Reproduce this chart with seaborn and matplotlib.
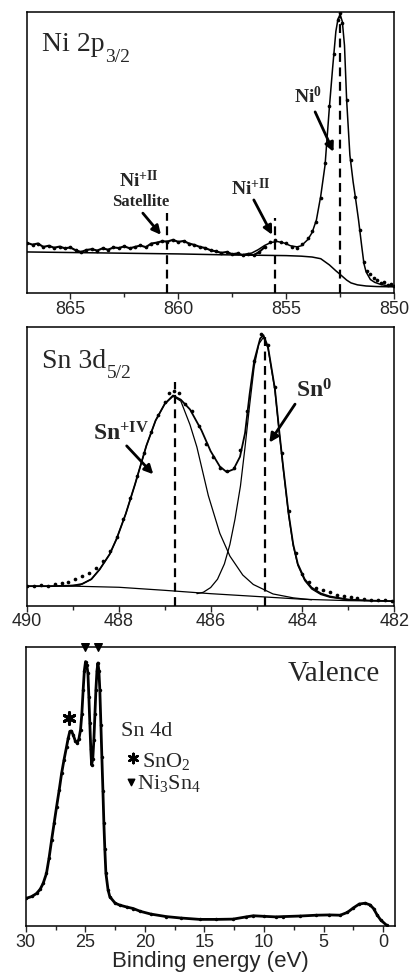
# XPS spectra of Ni3Sn4 sample: Ni 2p3/2, Sn 3d5/2 and valence band
import pandas as pd
import matplotlib
matplotlib.use("Agg")
import matplotlib.pyplot as plt
import seaborn as sns
from matplotlib.ticker import MultipleLocator

# ---------------- Ni 2p3/2 ----------------
ni_data_x = [867.0, 866.75, 866.5, 866.25, 866.0, 865.75, 865.5, 865.25, 865.0, 864.75,
             864.5, 864.25, 864.0, 863.75, 863.5, 863.25, 863.0, 862.75, 862.5, 862.25,
             862.0, 861.75, 861.5, 861.25, 861.0, 860.75, 860.5, 860.25, 860.0, 859.75,
             859.5, 859.25, 859.0, 858.75, 858.5, 858.25, 858.0, 857.75, 857.5, 857.25,
             857.0, 856.75, 856.5, 856.25, 856.0, 855.75, 855.5, 855.25, 855.0, 854.75,
             854.5, 854.25, 854.0, 853.8, 853.6, 853.4, 853.2, 853.0, 852.8, 852.6,
             852.5, 852.4, 852.2, 852.0, 851.8, 851.6, 851.4, 851.25, 851.1, 850.95,
             850.8, 850.6, 850.45, 850.3, 850.15, 850.0]
ni_data_y = [17.8, 17.2, 17.6, 16.4, 16.8, 16.1, 16.5, 15.9, 16.2, 15.2,
             14.6, 15.3, 15.6, 15.1, 15.9, 15.4, 16.2, 16.0, 16.6, 15.9,
             16.4, 16.9, 16.3, 17.6, 17.9, 18.4, 18.3, 18.9, 18.2, 18.5,
             17.6, 17.1, 16.4, 16.0, 15.2, 14.8, 14.3, 14.6, 13.8, 14.1,
             13.4, 13.7, 13.5, 14.6, 16.3, 18.3, 18.9, 18.0, 17.9, 16.2,
             15.9, 17.4, 19.6, 21.9, 25.4, 33.8, 46.2, 66.5, 85.0, 97.0,
             99.5, 96.0, 68.6, 47.3, 34.0, 22.5, 10.9, 8.0, 6.6, 5.3,
             4.6, 3.6, 3.9, 2.8, 3.1, 2.6]

ni_fit_x = [857.5, 857.0, 856.6, 856.3, 856.0, 855.7, 855.4, 855.1, 854.8, 854.5,
            854.3, 854.0, 853.8, 853.6, 853.4, 853.2, 853.0, 852.85, 852.7, 852.6,
            852.5, 852.4, 852.3, 852.2, 852.05, 851.9, 851.8, 851.65, 851.5, 851.4,
            851.3, 851.1, 850.9, 850.6, 850.3, 850.0]
ni_fit_y = [13.6, 13.7, 14.2, 15.4, 16.9, 18.0, 18.3, 17.8, 16.8, 16.4,
            16.8, 19.0, 21.5, 26.0, 34.5, 45.5, 66.0, 80.0, 93.0, 97.5,
            99.0, 96.5, 88.0, 68.5, 49.0, 39.5, 34.3, 26.0, 16.5, 10.5,
            7.5, 4.8, 3.8, 3.0, 2.6, 2.4]

ni_bg_x = [867.0, 865.0, 862.0, 860.0, 858.0, 856.0, 855.0, 854.3, 853.8, 853.4,
           853.0, 852.7, 852.5, 852.2, 852.0, 851.7, 851.3, 850.8, 850.0]
ni_bg_y = [14.6, 14.4, 14.1, 13.9, 13.6, 13.4, 13.3, 13.1, 12.8, 12.2,
           10.0, 7.9, 6.6, 4.6, 3.6, 2.9, 2.5, 2.3, 2.2]

ni_peak_pos = [860.5, 855.5, 852.5]
ni_peak_top = [28.5, 26.5, 99.0]

# ---------------- Sn 3d5/2 ----------------
sn_data_x = [490.0, 489.85, 489.7, 489.55, 489.4, 489.25, 489.1, 488.95, 488.8, 488.65,
             488.5, 488.35, 488.2, 488.05, 487.9, 487.75, 487.6, 487.45, 487.3, 487.15,
             487.0, 486.9, 486.8, 486.7, 486.55, 486.4, 486.25, 486.1, 485.95, 485.8,
             485.65, 485.5, 485.35, 485.2, 485.05, 484.9, 484.75, 484.6, 484.45, 484.3,
             484.15, 484.0, 483.85, 483.7, 483.55, 483.4, 483.25, 483.1, 482.95, 482.8,
             482.65, 482.5, 482.35, 482.2, 482.05]
sn_data_y = [7.1, 6.9, 7.3, 7.2, 7.6, 8.0, 8.6, 9.4, 10.6, 11.8,
             13.6, 16.0, 19.5, 24.5, 31.0, 38.5, 46.5, 55.0, 62.5, 68.5,
             73.0, 76.5, 77.0, 76.5, 72.5, 70.0, 64.5, 58.0, 53.5, 49.5,
             48.5, 49.5, 56.0, 70.0, 88.0, 97.5, 93.5, 78.5, 55.0, 34.0,
             19.0, 11.5, 8.5, 6.5, 5.5, 4.8, 4.0, 3.4, 3.0, 2.6,
             2.3, 2.1, 2.0, 1.9, 1.7]

sn_fit_x = [490.0, 489.5, 489.0, 488.8, 488.6, 488.42, 488.2, 488.05, 487.85, 487.65,
            487.4, 487.2, 487.0, 486.82, 486.65, 486.45, 486.2, 486.0, 485.8, 485.65,
            485.5, 485.36, 485.25, 485.15, 485.05, 484.92, 484.85, 484.75, 484.6, 484.5,
            484.42, 484.3, 484.2, 484.1, 483.95, 483.8, 483.6, 483.4, 483.0, 482.5, 482.0]
sn_fit_y = [7.0, 7.0, 7.2, 7.8, 9.5, 13.0, 18.5, 24.0, 33.0, 43.5,
            57.5, 66.5, 72.5, 75.5, 74.0, 70.5, 63.0, 55.5, 50.0, 48.0,
            49.0, 53.5, 62.0, 76.0, 88.0, 96.0, 97.2, 93.0, 78.0, 62.0,
            50.0, 33.0, 22.0, 15.0, 9.5, 6.5, 4.4, 3.3, 2.2, 1.8, 1.6]

sn4_x = [489.2, 488.85, 488.6, 488.42, 488.2, 488.05, 487.85, 487.65, 487.4, 487.2,
         487.0, 486.82, 486.65, 486.45, 486.3, 486.05, 485.8, 485.58, 485.3, 485.07,
         484.64, 484.2, 483.8]
sn4_y = [7.1, 7.4, 9.5, 13.0, 18.5, 24.0, 33.0, 43.5, 57.5, 66.5,
         72.5, 75.2, 73.5, 65.0, 57.0, 39.5, 26.0, 17.8, 11.0, 7.6,
         4.2, 2.8, 2.1]

sn0_x = [486.3, 486.16, 486.0, 485.85, 485.7, 485.58, 485.47, 485.35, 485.25, 485.15,
         485.05, 484.95, 484.85, 484.75, 484.6, 484.5, 484.42, 484.3, 484.2, 484.1,
         483.95, 483.8, 483.6, 483.4, 483.0]
sn0_y = [4.3, 4.8, 6.5, 9.5, 15.0, 22.0, 31.0, 43.0, 57.0, 72.0,
         86.0, 94.0, 96.4, 92.5, 77.5, 61.5, 49.5, 32.5, 21.5, 14.5,
         9.0, 6.0, 4.0, 3.0, 2.1]

sn_bg_x = [490.0, 489.0, 488.0, 487.0, 486.5, 486.0, 485.5, 485.0, 484.5, 484.0, 483.0, 482.0]
sn_bg_y = [7.0, 7.0, 6.6, 5.5, 4.9, 4.3, 3.8, 3.3, 2.8, 2.3, 1.8, 1.6]

sn_peak_pos = [486.78, 484.82]
sn_peak_top = [80.2, 98.2]

# ---------------- Valence band ----------------
val_x = [30.0, 29.5, 29.1, 28.8, 28.55, 28.27, 28.05, 27.84, 27.63, 27.42,
         27.2, 27.0, 26.8, 26.58, 26.45, 26.31, 26.17, 26.03, 25.85, 25.69,
         25.55, 25.41, 25.3, 25.19, 25.09, 24.99, 24.89, 24.79, 24.71, 24.63,
         24.55, 24.48, 24.38, 24.29, 24.2, 24.12, 24.03, 23.95, 23.87, 23.79,
         23.7, 23.62, 23.53, 23.45, 23.37, 23.28, 23.1, 22.95, 22.5, 22.11,
         21.5, 20.99, 20.4, 19.5, 18.2, 17.0, 15.4, 14.0, 12.6, 11.5,
         10.9, 10.0, 9.0, 8.4, 7.0, 5.6, 4.5, 3.6, 3.0, 2.5,
         2.0, 1.5, 1.1, 0.8, 0.5, 0.2, -0.3]
val_y = [9.9, 10.6, 11.7, 13.2, 15.3, 18.9, 24.5, 30.8, 36.8, 42.8,
         48.8, 54.7, 59.5, 64.3, 67.2, 69.7, 69.8, 68.5, 66.3, 65.5,
         67.0, 70.3, 76.0, 84.6, 91.5, 94.7, 93.5, 90.6, 82.0, 72.6,
         63.5, 57.7, 60.0, 66.7, 76.0, 84.6, 91.5, 94.2, 91.5, 84.6,
         72.0, 60.7, 48.5, 36.8, 27.5, 18.9, 13.0, 10.5, 8.2, 7.5,
         6.8, 6.3, 5.3, 4.3, 3.4, 2.9, 2.4, 2.4, 2.5, 3.3,
         3.7, 3.5, 3.3, 3.4, 3.6, 3.9, 4.0, 3.9, 4.9, 6.5,
         7.9, 8.2, 7.6, 6.3, 4.0, 2.2, 0.3]

val_sno2_x = [26.36]
val_sno2_y = [74.4]
val_ni3sn4_x = [25.0, 23.95]

# ---------------- style ----------------
sns.set_style("ticks")
plt.rcParams["font.family"] = ["Liberation Sans", "DejaVu Sans"]
plt.rcParams["mathtext.fontset"] = "custom"
plt.rcParams["mathtext.rm"] = "Liberation Serif"
plt.rcParams["mathtext.it"] = "Liberation Serif:italic"
plt.rcParams["mathtext.bf"] = "Liberation Serif:bold"
SERIF = ["Liberation Serif", "DejaVu Serif"]

fig = plt.figure(figsize=(4.11, 9.8), dpi=100)
ax1 = fig.add_axes([0.066, 0.701, 0.893, 0.287])
ax2 = fig.add_axes([0.066, 0.382, 0.893, 0.284])
ax3 = fig.add_axes([0.063, 0.055, 0.898, 0.285])

arrow_kw = dict(arrowstyle="-|>", lw=2.0, color="black", mutation_scale=13,
                shrinkA=0, shrinkB=0)


def style_axis(ax, xlim, major, minor):
    """Common look: reversed energy axis, no y ticks, outward ticks."""
    ax.set_xlim(*xlim)
    ax.set_ylim(0, 100)
    ax.set_yticks([])
    ax.set_ylabel("")
    ax.set_xlabel("")
    ax.xaxis.set_major_locator(MultipleLocator(major))
    ax.xaxis.set_minor_locator(MultipleLocator(minor))
    ax.tick_params(axis="x", which="major", direction="out", length=4, width=1.0,
                   labelsize=13, pad=1.5)
    ax.tick_params(axis="x", which="minor", direction="out", length=3, width=1.0)
    for sp in ax.spines.values():
        sp.set_linewidth(1.1)
        sp.set_color("black")


def panel_title(ax, y, main, sub):
    """Big serif title with a low-set subscript (like 2p3/2)."""
    t = ax.text(0.04, y, main, transform=ax.transAxes, family=SERIF,
                fontsize=20, va="baseline")
    ax.annotate(sub, xy=(1, 0), xycoords=t, xytext=(0.5, -3.2),
                textcoords="offset points", family=SERIF, fontsize=14,
                va="baseline", ha="left")


# ---- panel 1: Ni 2p ----
ni_df = pd.DataFrame({"x": ni_data_x, "y": ni_data_y})
noisy = ni_df[ni_df["x"] >= 855.9]
sns.lineplot(data=noisy, x="x", y="y", ax=ax1, color="black", lw=1.5, estimator=None, sort=False)
sns.scatterplot(data=ni_df, x="x", y="y", ax=ax1, color="black", s=7, linewidth=0)
sns.lineplot(x=ni_fit_x, y=ni_fit_y, ax=ax1, color="black", lw=1.1, estimator=None, sort=False)
sns.lineplot(x=ni_bg_x, y=ni_bg_y, ax=ax1, color="black", lw=1.1, estimator=None, sort=False)
ax1.vlines(ni_peak_pos, 0, ni_peak_top, colors="black", linestyles=(0, (4, 2.5)), lw=1.6)
style_axis(ax1, (867, 850), 5, 2.5)

panel_title(ax1, 0.859, "Ni 2p", "3/2")
ax1.text(854.66, 67.5, r"Ni$^{\mathbf{0}}$", family=SERIF, fontweight="bold",
         fontsize=14, va="baseline", ha="left")
ax1.annotate("", xy=(852.81, 50.2), xytext=(853.66, 64.4), arrowprops=arrow_kw)
ax1.text(857.57, 34.9, r"Ni$^{\mathbf{+II}}$", family=SERIF, fontweight="bold",
         fontsize=14, va="baseline", ha="left")
ax1.annotate("", xy=(855.65, 20.7), xytext=(856.5, 33.1), arrowprops=arrow_kw)
ax1.text(861.84, 37.6, r"Ni$^{\mathbf{+II}}$", family=SERIF, fontweight="bold",
         fontsize=14, va="baseline", ha="center")
ax1.text(861.72, 30.8, "Satellite", family=SERIF, fontweight="bold",
         fontsize=12, va="baseline", ha="center")
ax1.annotate("", xy=(860.8, 20.7), xytext=(861.64, 28.4), arrowprops=arrow_kw)

# ---- panel 2: Sn 3d ----
sns.scatterplot(x=sn_data_x, y=sn_data_y, ax=ax2, color="black", s=7, linewidth=0)
sns.lineplot(x=sn_fit_x, y=sn_fit_y, ax=ax2, color="black", lw=1.3, estimator=None, sort=False)
sns.lineplot(x=sn4_x, y=sn4_y, ax=ax2, color="black", lw=0.9, estimator=None, sort=False)
sns.lineplot(x=sn0_x, y=sn0_y, ax=ax2, color="black", lw=0.9, estimator=None, sort=False)
sns.lineplot(x=sn_bg_x, y=sn_bg_y, ax=ax2, color="black", lw=0.9, estimator=None, sort=False)
ax2.vlines(sn_peak_pos, 0, sn_peak_top, colors="black", linestyles=(0, (4, 2.5)), lw=1.6)
style_axis(ax2, (490, 482), 2, 1)

panel_title(ax2, 0.855, "Sn 3d", "5/2")
ax2.text(488.56, 59.2, r"Sn$^{\mathbf{+IV}}$", family=SERIF, fontweight="bold",
         fontsize=17, va="baseline", ha="left")
ax2.annotate("", xy=(487.25, 47.2), xytext=(487.83, 57.4), arrowprops=arrow_kw)
ax2.text(484.13, 74.8, r"Sn$^{\mathbf{0}}$", family=SERIF, fontweight="bold",
         fontsize=17, va="baseline", ha="left")
ax2.annotate("", xy=(484.72, 58.6), xytext=(484.16, 72.4), arrowprops=arrow_kw)

# ---- panel 3: valence ----
sns.lineplot(x=val_x, y=val_y, ax=ax3, color="black", lw=2.0, estimator=None, sort=False,
             marker="o", markersize=2.5, markeredgewidth=0)
style_axis(ax3, (30, -1), 5, 2.5)
ax3.set_xlabel("Binding energy (eV)", fontsize=16, labelpad=0)

ax3.scatter(val_sno2_x, val_sno2_y, marker=(6, 2, 0), s=70, color="black", lw=2.2)
ax3.scatter(val_ni3sn4_x, [1.0] * len(val_ni3sn4_x), marker="v", s=30, color="black",
            transform=ax3.get_xaxis_transform(), clip_on=False, zorder=5)

ax3.text(0.959, 0.876, "Valence", transform=ax3.transAxes, family=SERIF,
         fontsize=21, va="baseline", ha="right")
ax3.text(0.257, 0.679, "Sn 4d", transform=ax3.transAxes, family=SERIF,
         fontsize=16, va="baseline")
ax3.scatter([0.289], [0.603], marker=(6, 2, 0), s=45, color="black", lw=1.8,
            transform=ax3.transAxes, clip_on=False)
ax3.text(0.314, 0.570, "SnO$_2$", transform=ax3.transAxes, family=SERIF,
         fontsize=16, va="baseline")
ax3.scatter([0.285], [0.515], marker="v", s=22, color="black",
            transform=ax3.transAxes, clip_on=False)
ax3.text(0.300, 0.491, "Ni$_3$Sn$_4$", transform=ax3.transAxes, family=SERIF,
         fontsize=16, va="baseline")

fig.savefig("out.png", dpi=100)
